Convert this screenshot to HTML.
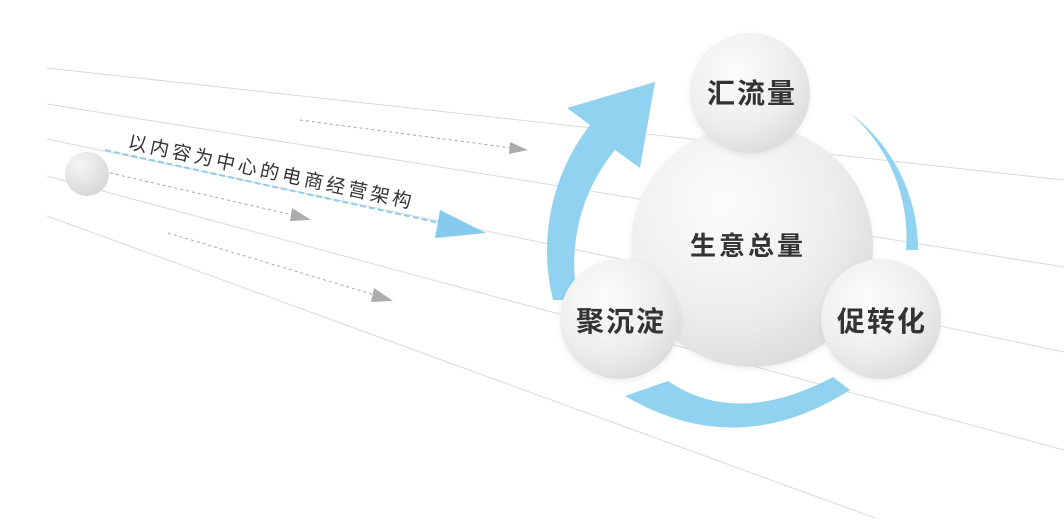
<!DOCTYPE html>
<html><head><meta charset="utf-8"><style>
html,body{margin:0;padding:0;background:#fff;}
svg{display:block;}
text{font-family:"Liberation Sans","Noto Sans CJK SC",sans-serif;}
</style></head><body>
<svg width="1064" height="532" viewBox="0 0 1064 532" xmlns="http://www.w3.org/2000/svg">
<defs>
<radialGradient id="g" cx="0.38" cy="0.32" r="0.75">
<stop offset="0" stop-color="#fcfcfc"/><stop offset="0.6" stop-color="#eeeeee"/><stop offset="1" stop-color="#dadada"/>
</radialGradient>
<radialGradient id="gs" cx="0.35" cy="0.3" r="0.8">
<stop offset="0" stop-color="#f6f6f6"/><stop offset="1" stop-color="#d4d4d4"/>
</radialGradient>
<filter id="sh" x="-20%" y="-20%" width="140%" height="140%"><feDropShadow dx="0" dy="2" stdDeviation="3" flood-color="#000" flood-opacity="0.07"/></filter>
</defs>
<g stroke="#dadada" stroke-width="1" fill="none">
<line x1="47" y1="68" x2="1064" y2="180"/>
<line x1="47" y1="104" x2="1064" y2="267"/>
<line x1="47" y1="139" x2="1064" y2="352"/>
<line x1="47" y1="176" x2="1064" y2="450"/>
<line x1="47" y1="216" x2="875" y2="518"/>
</g>
<g stroke="#a8a8a8" stroke-width="1" stroke-dasharray="3,3" fill="none">
<line x1="300" y1="120" x2="512" y2="148"/>
<line x1="110" y1="173" x2="293" y2="215"/>
<line x1="168" y1="233" x2="375" y2="295"/>
</g>
<g fill="#acacac">
<polygon points="510,142 528,150 509,154"/>
<polygon points="292,208 311,220 290,221"/>
<polygon points="374,288 393,301 371,302"/>
</g>
<line x1="105" y1="150" x2="440" y2="223" stroke="#8ecdee" stroke-width="2" stroke-dasharray="6,3"/>
<polygon points="440,210 486,233 435,238" fill="#85cbee"/>
<circle cx="87" cy="174" r="22" fill="url(#gs)"/>
<text x="0" y="0" transform="translate(127,148) rotate(12)" font-size="19" fill="#333" letter-spacing="3.5">以内容为中心的电商经营架构</text>
<path d="M553,300 A205,205 0 0 1 590,125 L567,108 L655,82 L640,168 L615,150 A178,178 0 0 0 578,300 Z" fill="#91d2f0"/>
<path d="M850,113 A170,170 0 0 1 918,250 L906,250 A165,165 0 0 0 850,113 Z" fill="#91d2f0"/>
<path d="M625,396 Q737,462 850,390 L833,377 Q737,428 668,381 Z" fill="#91d2f0"/>
<circle cx="752" cy="246" r="121" fill="url(#g)" filter="url(#sh)"/>
<circle cx="750" cy="93" r="60" fill="url(#g)" filter="url(#sh)"/>
<circle cx="620" cy="319" r="60" fill="url(#g)" filter="url(#sh)"/>
<circle cx="881" cy="319" r="60" fill="url(#g)" filter="url(#sh)"/>
<g font-size="28" font-weight="bold" fill="#333" text-anchor="middle">
<text x="752" y="103" letter-spacing="2">汇流量</text>
<text x="621" y="331" letter-spacing="2">聚沉淀</text>
<text x="882" y="331" letter-spacing="2">促转化</text>
<text x="748" y="255" font-size="26" letter-spacing="3">生意总量</text>
</g>
</svg>
</body></html>
